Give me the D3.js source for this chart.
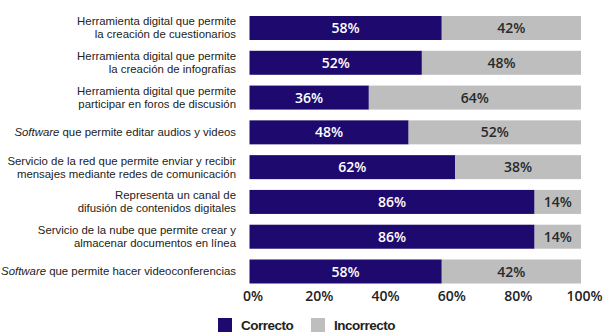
<!DOCTYPE html>
<html>
<head>
<meta charset="utf-8">
<script src="https://cdn.jsdelivr.net/npm/d3@7"></script>
<style>
  body { margin: 0; background: #fff; }
  .cat { font-family: "Liberation Sans", Arial, sans-serif; font-size: 11.4px; fill: #222; }
  .val { font-family: "Open Sans", sans-serif; font-size: 14px; font-weight: 600; }
  .tick text { font-family: "Open Sans", sans-serif; font-size: 14px; font-weight: 600; fill: #222; }
  .leg { font-family: "Liberation Sans", sans-serif; font-size: 13.5px; font-weight: bold; letter-spacing: -0.5px; fill: #222; }
</style>
</head>
<body>
<div id="chart"></div>
<script>
// categories (each one split into display lines; italic prefix marked with *)
const categories = [
    ["Herramienta digital que permite", "la creación de cuestionarios"],
    ["Herramienta digital que permite", "la creación de infografías"],
    ["Herramienta digital que permite", "participar en foros de discusión"],
    ["*Software* que permite editar audios y videos"],
    ["Servicio de la red que permite enviar y recibir", "mensajes mediante redes de comunicación"],
    ["Representa un canal de", "difusión de contenidos digitales"],
    ["Servicio de la nube que permite crear y", "almacenar documentos en línea"],
    ["*Software* que permite hacer videoconferencias"]
];
const correcto   = [58, 52, 36, 48, 62, 86, 86, 58];
const incorrecto = [42, 48, 64, 52, 38, 14, 14, 42];
const seriesNames = ["Correcto", "Incorrecto"];
const tickValues = [0, 20, 40, 60, 80, 100];

const colors = ["#1e0a6e", "#bebebe"];
const width = 609, height = 335;

const svg = d3.select("#chart").append("svg")
    .attr("width", width)
    .attr("height", height);

const x = d3.scaleLinear().domain([0, 100]).range([249.5, 581]);
const y = d3.scaleBand()
    .domain(d3.range(categories.length))
    .range([16, 283.5])
    .paddingInner(0.31)
    .paddingOuter(0);

let rows = categories.map((c, i) => ({i: i, c: correcto[i], w: incorrecto[i]}));

// bars
let g = svg.append("g");
g.selectAll(".bar-c").data(rows).enter().append("rect")
    .attr("class", "bar-c")
    .attr("x", x(0))
    .attr("y", d => y(d.i))
    .attr("width", d => x(d.c) - x(0))
    .attr("height", y.bandwidth())
    .attr("fill", colors[0]);

g.selectAll(".bar-w").data(rows).enter().append("rect")
    .attr("class", "bar-w")
    .attr("x", d => x(d.c))
    .attr("y", d => y(d.i))
    .attr("width", d => x(d.c + d.w) - x(d.c))
    .attr("height", y.bandwidth())
    .attr("fill", colors[1]);

// value labels
g.selectAll(".val-c").data(rows).enter().append("text")
    .attr("class", "val")
    .attr("x", d => (x(0) + x(d.c)) / 2)
    .attr("y", d => y(d.i) + y.bandwidth() / 2)
    .attr("dy", "0.36em")
    .attr("text-anchor", "middle")
    .attr("fill", "#fff")
    .text(d => d.c + "%");

g.selectAll(".val-w").data(rows).enter().append("text")
    .attr("class", "val")
    .attr("x", d => (x(d.c) + x(d.c + d.w)) / 2)
    .attr("y", d => y(d.i) + y.bandwidth() / 2)
    .attr("dy", "0.36em")
    .attr("text-anchor", "middle")
    .attr("fill", "#2a2a2a")
    .text(d => d.w + "%");

// category labels
let labels = svg.append("g");
rows.forEach(d => {
    let lines = categories[d.i];
    let lineH = 13;
    let cy = y(d.i) + y.bandwidth() / 2 - (lines.length - 1) * lineH / 2;
    let t = labels.append("text")
        .attr("class", "cat")
        .attr("text-anchor", "end");
    lines.forEach((line, k) => {
        let parts = line.split("*").filter((p, j) => !(j === 0 && p === ""));
        let italicFirst = line.startsWith("*");
        parts.forEach((p, j) => {
            let ts = t.append("tspan").text(p);
            if (j === 0) ts.attr("x", 236).attr("y", cy + k * lineH).attr("dy", "0.35em");
            if (italicFirst && j === 0) ts.attr("font-style", "italic");
        });
    });
});

// x axis
let xAxis = d3.axisBottom(x)
    .tickValues(tickValues)
    .tickFormat(d => d + "%")
    .tickSize(0)
    .tickPadding(0);

let ax = svg.append("g")
    .attr("transform", "translate(0,291)")
    .call(xAxis);
ax.select(".domain").remove();
ax.selectAll(".tick text").attr("dx", 3);

// legend
let leg = svg.append("g").attr("transform", "translate(218,318)");
let legX = [0, 93];
seriesNames.forEach((name, i) => {
    leg.append("rect")
        .attr("x", legX[i])
        .attr("y", 0)
        .attr("width", 14)
        .attr("height", 14)
        .attr("fill", colors[i]);
    leg.append("text")
        .attr("class", "leg")
        .attr("x", legX[i] + 23)
        .attr("y", 7)
        .attr("dy", "0.36em")
        .text(name);
});
</script>
</body>
</html>
